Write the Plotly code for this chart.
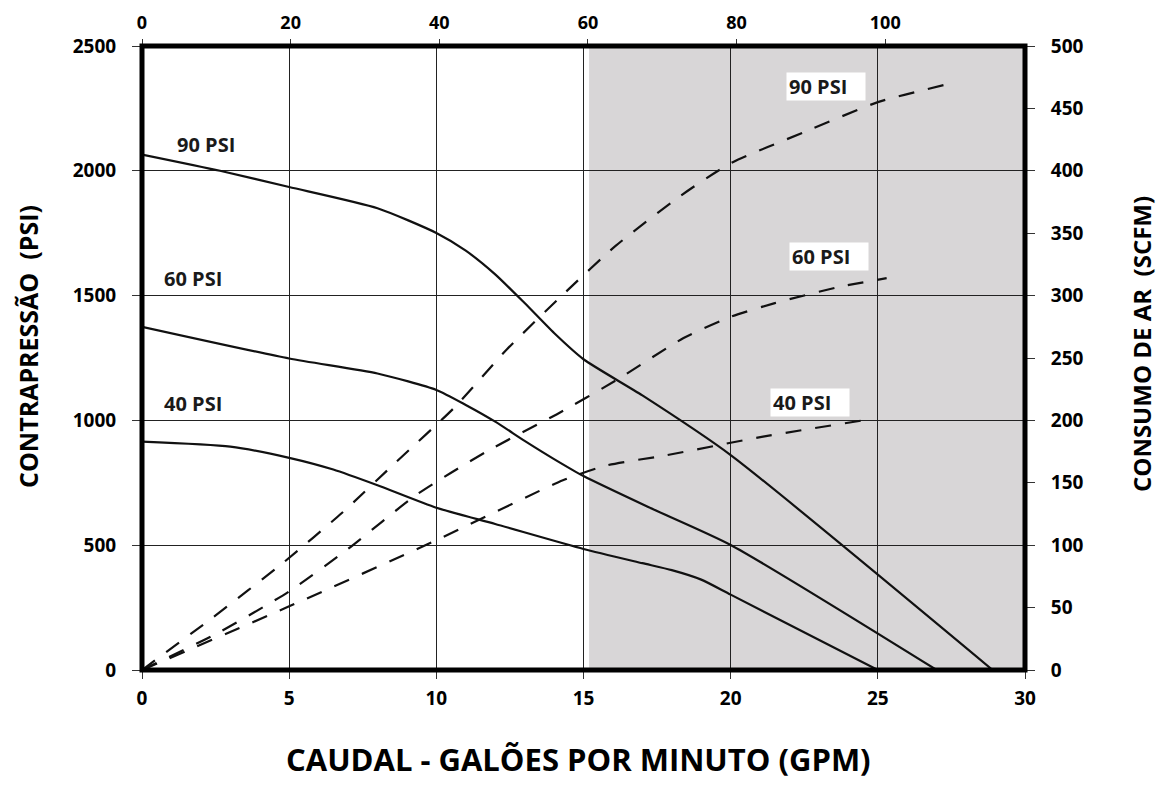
import plotly.graph_objects as go

# ---- data ----
# Back pressure (PSI) vs flow (GPM), solid curves
gpm_90 = [0, 2.65, 5, 8, 10, 11, 12, 13, 14, 15, 17, 20, 28.9]
psi_90 = [2065, 2000, 1935, 1850, 1751, 1680, 1585, 1470, 1350, 1245, 1100, 861, 0]

gpm_60 = [0, 5, 8, 10, 11, 12, 13, 14, 15, 17.2, 20, 27]
psi_60 = [1375, 1248, 1188, 1122, 1062, 995, 918, 845, 777, 653, 501, 0]

gpm_40 = [0, 3, 5, 6.5, 8, 10, 12, 15, 17, 18, 19, 20, 25]
psi_40 = [915, 895, 850, 803, 740, 650, 585, 485, 428, 400, 362, 302, 0]

# Air consumption (SCFM) vs flow (GPM), dashed curves
air_gpm_90 = [0, 2.4, 4.8, 6.8, 8.65, 10.6, 12.4, 14.4, 16.1, 18.3, 20, 22.5, 25, 27.3]
air_scfm_90 = [0, 42, 86, 126, 167, 210, 257, 303, 340, 380, 406, 431, 455, 469]

air_gpm_60 = [0, 2.6, 5, 7, 9.3, 11.7, 14.1, 16.1, 18.4, 20, 21.5, 23.7, 25.3]
air_scfm_60 = [0, 30, 63, 97, 140, 175, 205, 232, 266, 283, 294, 307, 314]

air_gpm_40 = [0, 5, 10, 14.3, 15.8, 17.8, 21.1, 24.5]
air_scfm_40 = [0, 51, 104, 152, 164, 172, 187, 200]

curve_labels = ["90 PSI", "60 PSI", "40 PSI"]
left_label_x = [2.17, 1.73, 1.73]
left_label_y = [2107, 1568, 1066]
right_label_x = [23.24, 23.34, 22.7]
right_label_y = [467.5, 331.3, 214.3]

shade_start = 15.19

x_ticks = [0, 5, 10, 15, 20, 25, 30]
top_ticks = [0, 20, 40, 60, 80, 100]
left_ticks = [0, 500, 1000, 1500, 2000, 2500]
right_ticks = [0, 50, 100, 150, 200, 250, 300, 350, 400, 450, 500]

FONT = "Open Sans"
INK = "#111111"

# page body has an 8px margin; size the figure so the page is 1168x787
OFF = 8
W, H = 1168 - 2 * OFF, 787 - 2 * OFF
L, T = 142 - OFF, 46 - OFF
pw, ph = 883, 624
R, B = W - L - pw, H - T - ph


def px_to_paper(xp, yp):
    """window pixel -> paper coords"""
    return (xp - OFF - L) / pw, (H - (yp - OFF) - B) / ph


fig = go.Figure()

for xs, ys in [(gpm_90, psi_90), (gpm_60, psi_60), (gpm_40, psi_40)]:
    fig.add_trace(go.Scatter(x=xs, y=ys, mode="lines",
                             line=dict(color=INK, width=2.2, shape="spline", smoothing=0.6),
                             xaxis="x", yaxis="y", showlegend=False, hoverinfo="skip"))

for xs, ys in [(air_gpm_90, air_scfm_90), (air_gpm_60, air_scfm_60), (air_gpm_40, air_scfm_40)]:
    fig.add_trace(go.Scatter(x=xs, y=ys, mode="lines",
                             line=dict(color=INK, width=2.2, dash="16px,14px", shape="spline", smoothing=0.6),
                             xaxis="x", yaxis="y2", showlegend=False, hoverinfo="skip"))

# invisible trace to anchor the top axis
fig.add_trace(go.Scatter(x=[0, 100], y=[0, 0], mode="markers", marker=dict(opacity=0),
                         xaxis="x2", yaxis="y", showlegend=False, hoverinfo="skip"))

# shaded region
fig.add_shape(type="rect", xref="x", yref="paper", x0=shade_start, x1=30, y0=0, y1=1,
              fillcolor="#d8d6d7", line=dict(width=0), layer="below")
# thick frame
fig.add_shape(type="rect", xref="paper", yref="paper", x0=0, x1=1, y0=0, y1=1,
              line=dict(color="black", width=5), layer="above")

lab_font = dict(family=FONT, size=20, color="#1a1a1a", weight="bold")
for t, x, y in zip(curve_labels, left_label_x, left_label_y):
    fig.add_annotation(x=x, y=y, xref="x", yref="y", text=t, showarrow=False, font=lab_font)
for t, x, y in zip(curve_labels, right_label_x, right_label_y):
    fig.add_annotation(x=x, y=y, xref="x", yref="y2", text=t, showarrow=False, font=lab_font,
                       bgcolor="white", width=74, height=23, borderpad=2, align="left")

tx, ty = px_to_paper(578, 759)
fig.add_annotation(x=tx, y=ty, xref="paper", yref="paper", text="CAUDAL - GALÕES POR MINUTO (GPM)",
                   xanchor="center", yanchor="middle", showarrow=False,
                   font=dict(family=FONT, size=31, color="black", weight="bold"))
lx, ly = px_to_paper(28, 347)
fig.add_annotation(x=lx, y=ly, xref="paper", yref="paper", text="CONTRAPRESSÃO  (PSI)",
                   xanchor="center", yanchor="middle", showarrow=False, textangle=-90,
                   font=dict(family=FONT, size=25, color="black", weight="bold"))
rx, ry = px_to_paper(1141, 344)
fig.add_annotation(x=rx, y=ry, xref="paper", yref="paper", text="CONSUMO DE AR  (SCFM)",
                   xanchor="center", yanchor="middle", showarrow=False, textangle=-90,
                   font=dict(family=FONT, size=24, color="black", weight="bold"))

tick_font = dict(family=FONT, size=19, color="black", weight="bold")
fig.update_layout(
    width=W, height=H,
    margin=dict(l=L, r=R, t=T, b=B, autoexpand=False),
    paper_bgcolor="white", plot_bgcolor="white",
    xaxis=dict(range=[0, 30], tickvals=x_ticks, ticks="outside", ticklen=8, tickcolor="#333",
               showgrid=True, gridcolor="#222", gridwidth=1, zeroline=False, showline=False,
               tickfont=tick_font, ticklabelstandoff=3, automargin=False),
    xaxis2=dict(range=[0, 118.8], tickvals=top_ticks, overlaying="x", side="top", anchor="y",
                ticks="outside", ticklen=6, tickcolor="#333", showgrid=False, zeroline=False,
                showline=False, tickfont=dict(family=FONT, size=18, color="black", weight="bold"),
                ticklabelstandoff=3, automargin=False),
    yaxis=dict(range=[0, 2500], tickvals=left_ticks, ticks="outside", ticklen=9, tickcolor="#333",
               showgrid=True, gridcolor="#222", gridwidth=1, zeroline=False, showline=False,
               tickfont=tick_font, ticklabelstandoff=12, automargin=False),
    yaxis2=dict(range=[0, 500], tickvals=right_ticks, overlaying="y", side="right", anchor="x",
                ticks="outside", ticklen=9, tickcolor="#333", showgrid=False, zeroline=False,
                showline=False, tickfont=tick_font, ticklabelstandoff=12, automargin=False),
)

fig.write_html("out.html")
